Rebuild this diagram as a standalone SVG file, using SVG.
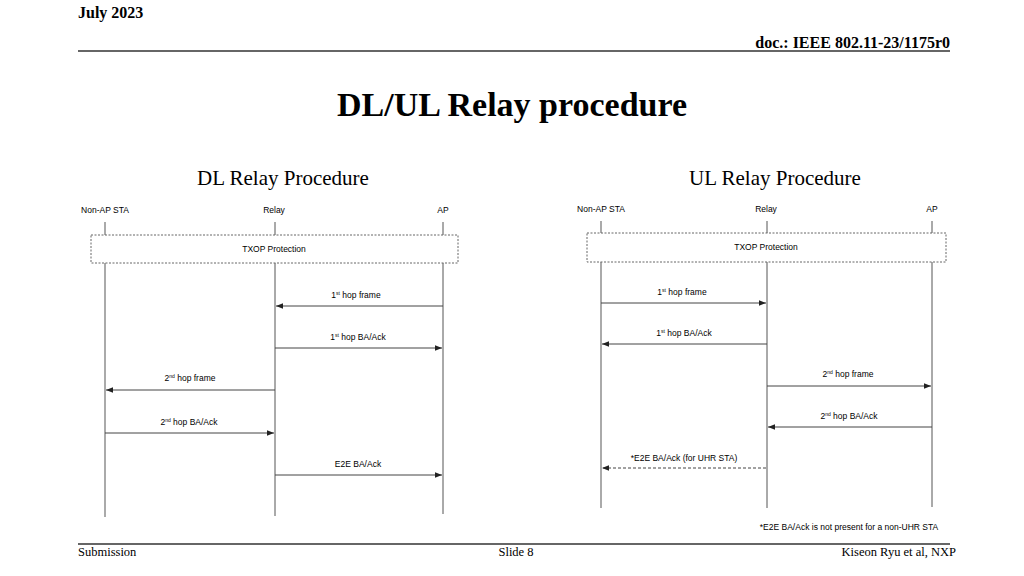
<svg xmlns="http://www.w3.org/2000/svg" width="1024" height="576" viewBox="0 0 1024 576">
<style>
.hdr{font-family:"Liberation Serif",serif;font-weight:bold;font-size:16px;fill:#000}
.ftr{font-family:"Liberation Serif",serif;font-size:12.5px;fill:#000}
.title{font-family:"Liberation Serif",serif;font-weight:bold;font-size:34px;fill:#000}
.sub{font-family:"Liberation Serif",serif;font-size:21px;fill:#000}
.lbl{font-family:"Liberation Sans",Arial,sans-serif;font-size:8.5px;fill:#000}
.sup{font-size:5px}
.life{stroke:#555;stroke-width:1;fill:none}
.life1{stroke:#aaa;stroke-width:2;fill:none}
.msg{stroke:#444;stroke-width:1;fill:none;marker-end:url(#ah)}
.dmsg{stroke:#444;stroke-width:1;fill:none;stroke-dasharray:3 2;marker-end:url(#ah)}
.box{fill:none;stroke:#666;stroke-width:1;stroke-dasharray:2 1.5}
.rule{stroke:#666;stroke-width:2}
</style>
<defs>
<marker id="ah" viewBox="0 0 10 10" refX="10" refY="5" markerWidth="7" markerHeight="7" markerUnits="userSpaceOnUse" orient="auto">
<path d="M0,1 L10,5 L0,9 z" fill="#222"/>
</marker>
</defs>
<rect width="1024" height="576" fill="#fff"/>
<g id="header">
<text class="hdr" x="78" y="18">July 2023</text>
<text class="hdr" x="950" y="48" text-anchor="end">doc.: IEEE 802.11-23/1175r0</text>
<line class="rule" x1="78" y1="51" x2="950" y2="51"/>
</g>
<text class="title" x="512" y="116" text-anchor="middle">DL/UL Relay procedure</text>
<text class="sub" x="283" y="185" text-anchor="middle">DL Relay Procedure</text>
<text class="sub" x="775" y="185" text-anchor="middle">UL Relay Procedure</text>

<!-- DL -->
<g id="dl-nonap">
<text class="lbl" x="105" y="213" text-anchor="middle">Non-AP STA</text>
<line class="life1" x1="105" y1="222" x2="105" y2="235"/>
<line class="life1" x1="105" y1="263" x2="105" y2="517"/>
</g>
<g id="dl-relay">
<text class="lbl" x="274" y="213" text-anchor="middle">Relay</text>
<line class="life" x1="275" y1="222" x2="275" y2="235"/>
<line class="life" x1="275" y1="263" x2="275" y2="516"/>
</g>
<g id="dl-ap">
<text class="lbl" x="443" y="213" text-anchor="middle">AP</text>
<line class="life" x1="443" y1="222" x2="443" y2="235"/>
<line class="life" x1="443" y1="263" x2="443" y2="514"/>
</g>
<g id="dl-txop">
<rect class="box" x="91" y="235" width="367" height="28"/>
<text class="lbl" x="274" y="252" text-anchor="middle">TXOP Protection</text>
</g>

<!-- UL -->
<g id="ul-nonap">
<text class="lbl" x="601" y="212" text-anchor="middle">Non-AP STA</text>
<line class="life1" x1="601" y1="221" x2="601" y2="233"/>
<line class="life1" x1="601" y1="262" x2="601" y2="508"/>
</g>
<g id="ul-relay">
<text class="lbl" x="766" y="212" text-anchor="middle">Relay</text>
<line class="life" x1="767" y1="221" x2="767" y2="233"/>
<line class="life" x1="767" y1="262" x2="767" y2="508"/>
</g>
<g id="ul-ap">
<text class="lbl" x="932" y="212" text-anchor="middle">AP</text>
<line class="life" x1="932" y1="221" x2="932" y2="233"/>
<line class="life" x1="932" y1="262" x2="932" y2="507"/>
</g>
<g id="ul-txop">
<rect class="box" x="587" y="233" width="359" height="29"/>
<text class="lbl" x="766" y="250" text-anchor="middle">TXOP Protection</text>
</g>

<g id="connectors">
<line class="msg" x1="443" y1="306" x2="276" y2="306"/>
<line class="msg" x1="275" y1="348" x2="442" y2="348"/>
<line class="msg" x1="275" y1="390" x2="106" y2="390"/>
<line class="msg" x1="105" y1="433" x2="274" y2="433"/>
<line class="msg" x1="275" y1="475" x2="442" y2="475"/>
<line class="msg" x1="601" y1="303" x2="766" y2="303"/>
<line class="msg" x1="767" y1="344" x2="602" y2="344"/>
<line class="msg" x1="767" y1="386" x2="931" y2="386"/>
<line class="msg" x1="932" y1="427" x2="768" y2="427"/>
<line class="dmsg" x1="766" y1="468" x2="602" y2="468"/>
</g>

<g id="labels">
<text class="lbl" x="356" y="298" text-anchor="middle">1<tspan class="sup" dy="-3">st</tspan><tspan dy="3"> hop frame</tspan></text>
<text class="lbl" x="358" y="340" text-anchor="middle">1<tspan class="sup" dy="-3">st</tspan><tspan dy="3"> hop BA/Ack</tspan></text>
<text class="lbl" x="190" y="381" text-anchor="middle">2<tspan class="sup" dy="-3">nd</tspan><tspan dy="3"> hop frame</tspan></text>
<text class="lbl" x="189" y="425" text-anchor="middle">2<tspan class="sup" dy="-3">nd</tspan><tspan dy="3"> hop BA/Ack</tspan></text>
<text class="lbl" x="358" y="467" text-anchor="middle">E2E BA/Ack</text>
<text class="lbl" x="682" y="295" text-anchor="middle">1<tspan class="sup" dy="-3">st</tspan><tspan dy="3"> hop frame</tspan></text>
<text class="lbl" x="684" y="336" text-anchor="middle">1<tspan class="sup" dy="-3">st</tspan><tspan dy="3"> hop BA/Ack</tspan></text>
<text class="lbl" x="848" y="377" text-anchor="middle">2<tspan class="sup" dy="-3">nd</tspan><tspan dy="3"> hop frame</tspan></text>
<text class="lbl" x="849" y="419" text-anchor="middle">2<tspan class="sup" dy="-3">nd</tspan><tspan dy="3"> hop BA/Ack</tspan></text>
<text class="lbl" x="684" y="461" text-anchor="middle">*E2E BA/Ack (for UHR STA)</text>
<text class="lbl" x="849" y="530" text-anchor="middle">*E2E BA/Ack is not present for a non-UHR STA</text>
</g>

<g id="footer">
<line class="rule" x1="78" y1="544" x2="950" y2="544"/>
<text class="ftr" x="78" y="556">Submission</text>
<text class="ftr" x="516" y="556" text-anchor="middle">Slide 8</text>
<text class="ftr" x="956" y="556" text-anchor="end">Kiseon Ryu et al, NXP</text>
</g>
</svg>
